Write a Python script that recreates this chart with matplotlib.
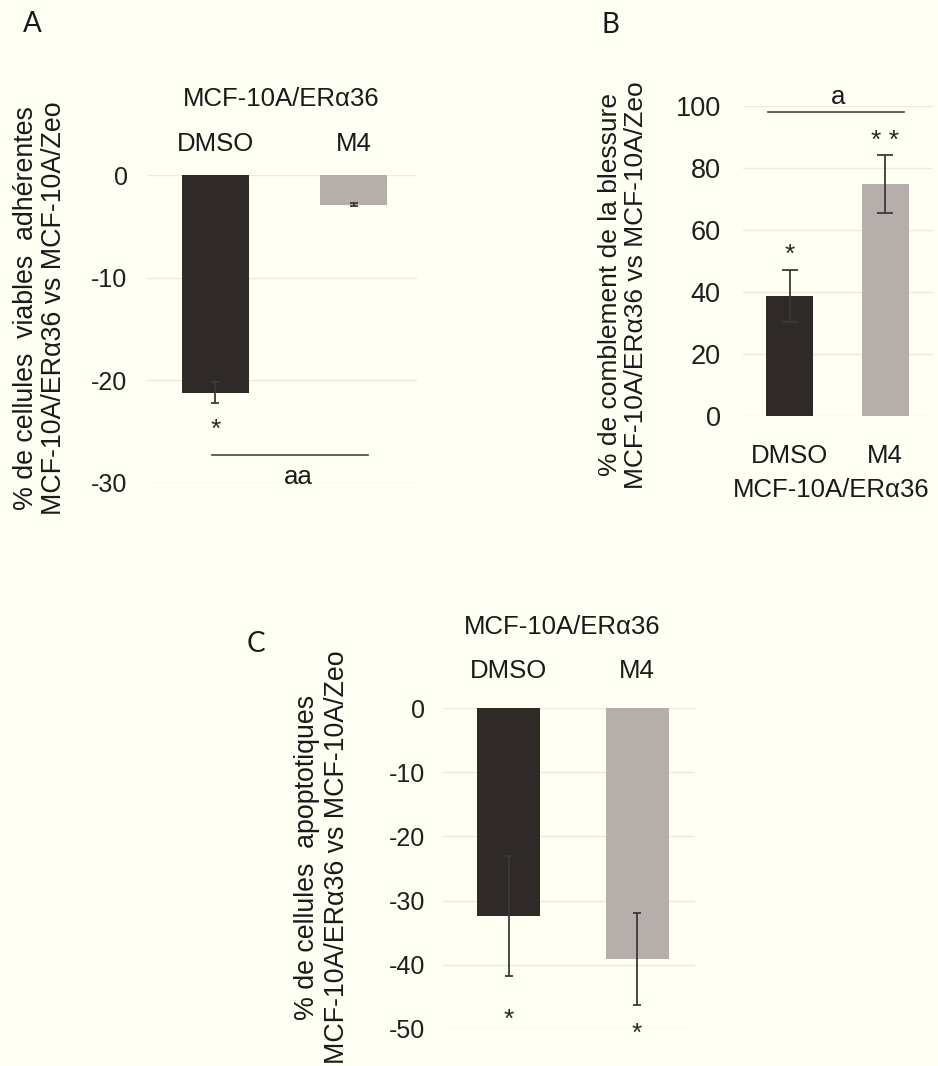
"""
Figure: effet de M4 sur MCF-10A/ERα36 (panneaux A, B, C)
"""

import matplotlib
matplotlib.use('Agg')
import matplotlib.pyplot as plt

plt.rcParams['font.family'] = ['Liberation Sans', 'DejaVu Sans']

# Données
categories = ['DMSO', 'M4']
cell_line = 'MCF-10A/ERα36'

a_values = [-21.2, -2.9]
a_errors = [1.0, 0.15]
a_sig = ['*', '']
a_ticks = [0, -10, -20, -30]

b_values = [38.7, 74.8]
b_errors = [8.5, 9.3]
b_sig = ['*', '* *']
b_ticks = [0, 20, 40, 60, 80, 100]

c_values = [-32.4, -39.1]
c_errors = [9.3, 7.1]
c_sig = ['*', '*']
c_ticks = [0, -10, -20, -30, -40, -50]

a_ylabel = '% de cellules  viables  adhérentes\nMCF-10A/ERα36 vs MCF-10A/Zeo'
b_ylabel = '% de comblement de la blessure\nMCF-10A/ERα36 vs MCF-10A/Zeo'
c_ylabel = '% de cellules  apoptotiques\nMCF-10A/ERα36 vs MCF-10A/Zeo'

# Style
W, H = 938, 1066
BG = '#fffff4'
DARK = '#2f2928'
LIGHT = '#b6aeaa'
ERR = '#3a3a3a'
TXT = '#1a1a1a'
GRID = '#efe9e2'

fig = plt.figure(figsize=(W / 100, H / 100), dpi=100, facecolor=BG)


def ax_px(l, t, r, b):
    return fig.add_axes([l / W, 1 - b / H, (r - l) / W, (b - t) / H])


def fx(x):
    return x / W


def fy(y):
    return 1 - y / H


def pt(px):
    return px * 72 / 100


def style_axes(ax, ticks, pad, size):
    ax.set_facecolor('none')
    for s in ax.spines.values():
        s.set_visible(False)
    ax.set_yticks(ticks)
    ax.set_yticklabels([str(t) for t in ticks])
    ax.tick_params(axis='y', length=0, pad=pad, labelsize=size, labelcolor='#1f1f1f')
    ax.tick_params(axis='x', length=0, labelsize=18.5, labelcolor=TXT)
    ax.yaxis.grid(True, color=GRID, linewidth=1.0)
    ax.set_axisbelow(True)


def draw_bars(ax, values, errors, width, capsize):
    ax.bar(range(len(values)), values, width=width, color=[DARK, LIGHT], zorder=2)
    ax.errorbar(range(len(values)), values, yerr=errors, fmt='none', ecolor=ERR,
                elinewidth=1.3, capsize=capsize, capthick=1.3, zorder=3)


def draw_stars(ax, values, errors, labels, gaps_px):
    # gap = distance (px) entre l'extrémité de la barre d'erreur et le centre de l'astérisque
    for i, (v, e, lab, g) in enumerate(zip(values, errors, labels, gaps_px)):
        if not lab:
            continue
        if v < 0:
            y, off = v - e, -(g + 14.5)
        else:
            y, off = v + e, g - 14.5
        ax.annotate(lab, (i, y), xytext=(0, pt(off)), textcoords='offset points',
                    ha='center', va='baseline', fontsize=19, color='#2a2a2a',
                    annotation_clip=False)


# =============================================================================
# A : cellules viables adhérentes
# =============================================================================
axA = ax_px(147, 175, 417, 483)
draw_bars(axA, a_values, a_errors, 0.485, 3.0)
axA.set_xlim(-0.496, 1.46)
axA.set_ylim(-30, 0)
style_axes(axA, a_ticks, 14, 18)
axA.xaxis.tick_top()
axA.set_xticks(range(len(categories)))
axA.set_xticklabels(categories)
axA.tick_params(axis='x', pad=14)
draw_stars(axA, a_values, a_errors, a_sig, [19.5, 0])
axA.plot([-0.025, 1.105], [-27.3, -27.3], color='#444444', lw=1.2, clip_on=False)
axA.text(0.6, -29.4, 'aa', ha='center', va='center', fontsize=18.5, color=TXT)

fig.text(fx(281), fy(99), cell_line, ha='center', va='center', fontsize=18.5, color=TXT)
fig.text(fx(40), fy(308), a_ylabel, rotation=90, ha='center', va='center',
         fontsize=19.3, color=TXT, multialignment='center', linespacing=1.12)
fig.text(fx(32), fy(24), 'A', ha='center', va='center', fontsize=20,
         family=['Lato', 'DejaVu Sans'], color=TXT)

# =============================================================================
# B : comblement de la blessure
# =============================================================================
axB = ax_px(743, 106, 933, 416)
draw_bars(axB, b_values, b_errors, 0.49, 5.5)
axB.set_xlim(-0.487, 1.5)
axB.set_ylim(0, 100)
style_axes(axB, b_ticks, 16, 19.5)
axB.set_xticks(range(len(categories)))
axB.set_xticklabels(categories)
axB.tick_params(axis='x', pad=20)
draw_stars(axB, b_values, b_errors, b_sig, [22.6, 22])
axB.plot([-0.225, 1.2], [98, 98], color='#444444', lw=1.2, clip_on=False)
axB.text(0.51, 102.9, 'a', ha='center', va='center', fontsize=18.5, color=TXT)

fig.text(fx(831), fy(490), cell_line, ha='center', va='center', fontsize=18.5, color=TXT)
fig.text(fx(623), fy(285), b_ylabel, rotation=90, ha='center', va='center',
         fontsize=19, color=TXT, multialignment='center', linespacing=1.08)
fig.text(fx(610), fy(25), 'B', ha='center', va='center', fontsize=20,
         family=['Lato', 'DejaVu Sans'], color=TXT)

# =============================================================================
# C : cellules apoptotiques
# =============================================================================
axC = ax_px(443, 708, 695, 1029)
draw_bars(axC, c_values, c_errors, 0.49, 3.0)
axC.set_xlim(-0.51, 1.45)
axC.set_ylim(-50, 0)
style_axes(axC, c_ticks, 13, 18)
axC.xaxis.tick_top()
axC.set_xticks(range(len(categories)))
axC.set_xticklabels(categories)
axC.tick_params(axis='x', pad=18)
draw_stars(axC, c_values, c_errors, c_sig, [37, 22])

fig.text(fx(562), fy(627), cell_line, ha='center', va='center', fontsize=18.5, color=TXT)
fig.text(fx(322), fy(857), c_ylabel, rotation=90, ha='center', va='center',
         fontsize=19.3, color=TXT, multialignment='center', linespacing=1.2)
fig.text(fx(256), fy(644), 'C', ha='center', va='center', fontsize=20,
         family=['Lato', 'DejaVu Sans'], color=TXT)

fig.savefig('out.png', dpi=100, facecolor=BG)
plt.close(fig)
